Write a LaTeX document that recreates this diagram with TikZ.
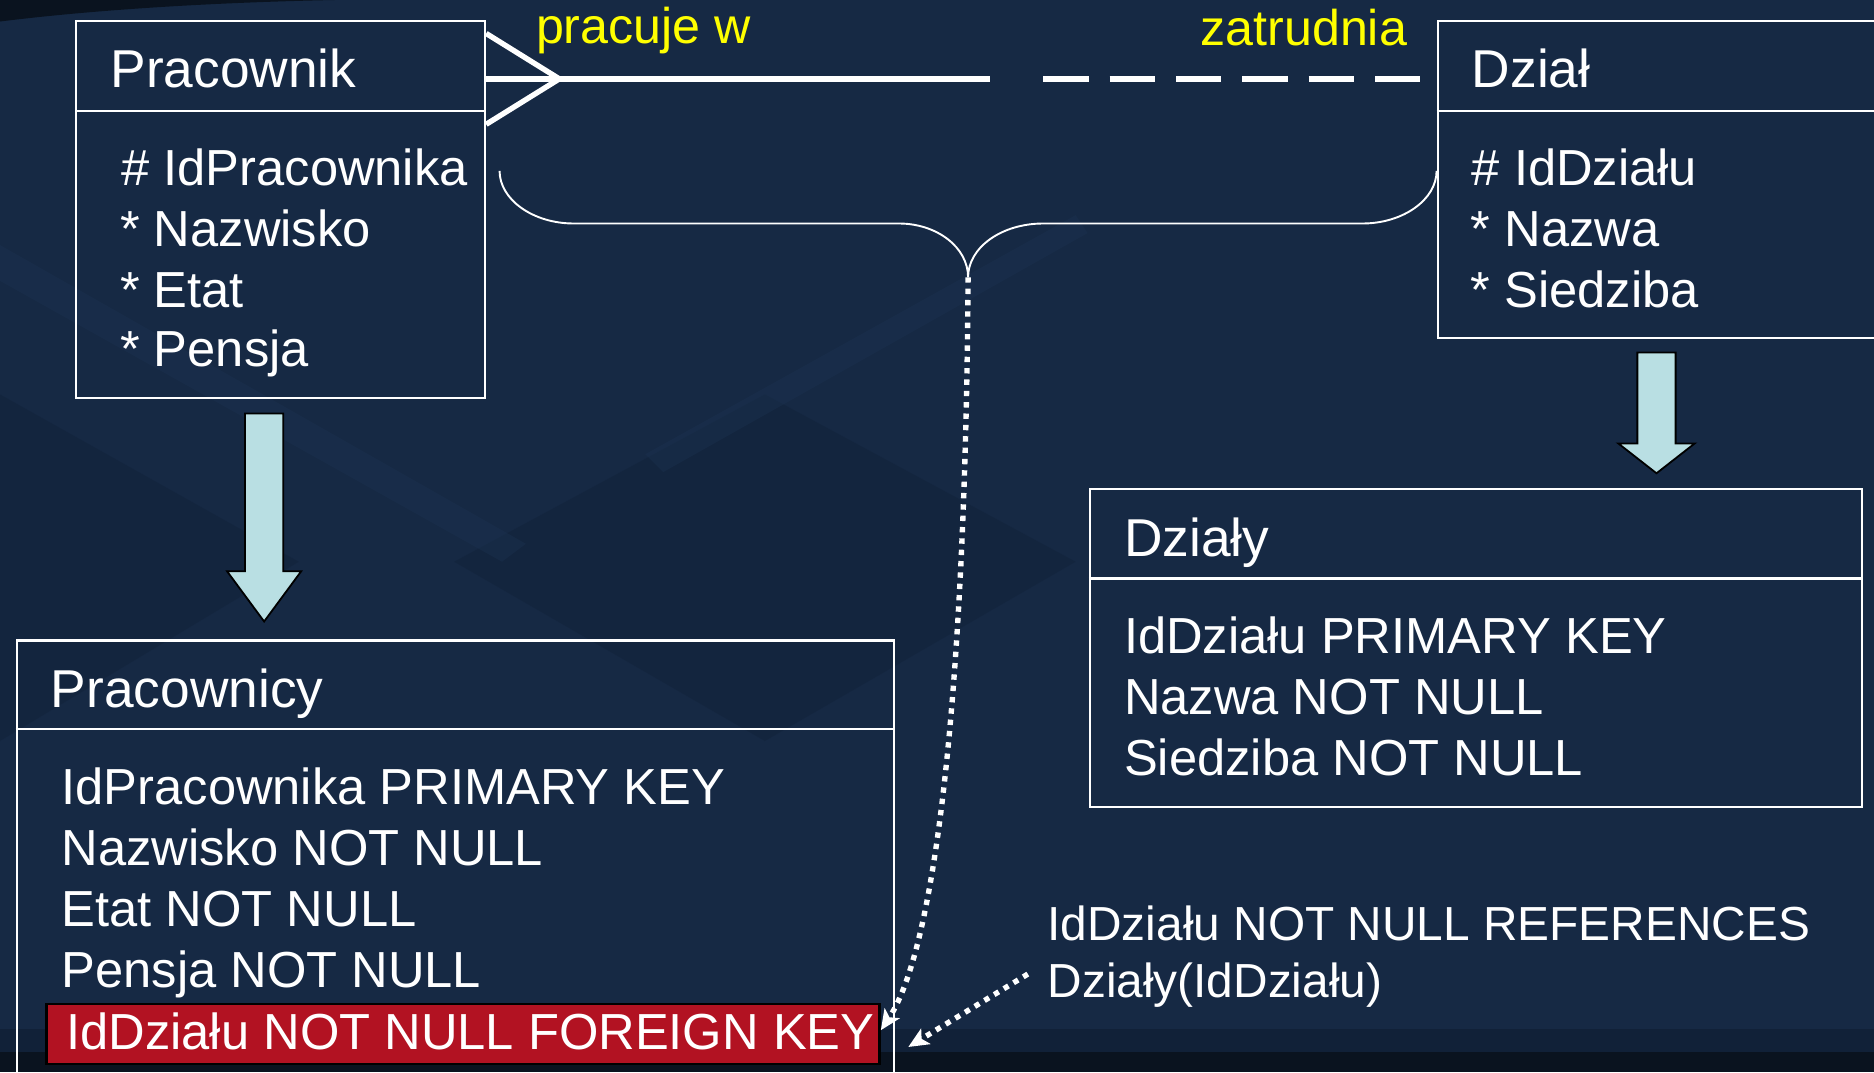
\documentclass[tikz,border=0pt]{standalone}
\usepackage{fontspec}
\setmainfont{Liberation Sans}
\usetikzlibrary{arrows.meta,calc}
\definecolor{bg}{RGB}{22,41,68}
\definecolor{bgdark}{RGB}{17,33,56}
\definecolor{bgfoot}{RGB}{10,19,31}
\definecolor{bglight}{RGB}{30,54,86}
\definecolor{arrowfill}{RGB}{185,223,227}
\definecolor{fkred}{RGB}{178,18,34}
\definecolor{ylw}{RGB}{255,255,0}
\tikzset{
  box/.style={draw=white, line width=1.8pt, anchor=north west, inner sep=0pt},
  divider/.style={draw=white, line width=2.2pt},
  ttl/.style={anchor=base west, text=white, font=\fontsize{44.6}{50}\selectfont},
  attr/.style={anchor=base west, text=white, font=\fontsize{42.4}{48}\selectfont},
  note/.style={anchor=base west, text=white, font=\fontsize{40}{46}\selectfont},
  rel/.style={anchor=base west, text=ylw, font=\fontsize{42}{48}\selectfont},
  thick rel/.style={draw=white, line width=4.5pt},
  brace/.style={draw=white, line width=1.6pt},
  dotarrow/.style={draw=white, line width=4.5pt, dash pattern=on 4.5pt off 5pt,
     -{Stealth[length=17pt,width=15pt,inset=4pt]}},
  blockarrow/.style={fill=arrowfill, draw=black, line width=1.5pt, line join=miter},
}
\begin{document}
\begin{tikzpicture}[x=1pt,y=-1pt]
\useasboundingbox (0,0) rectangle (1568,897);
\clip (0,0) rectangle (1568,897);
% background
\fill[bg] (0,0) rectangle (1568,897);
\fill[bgdark, opacity=0.45] (0,330) -- (250,470) -- (0,620) -- cycle;
\fill[bgdark, opacity=0.45] (380,470) -- (640,330) -- (900,470) -- (640,620) -- cycle;
\fill[bglight, opacity=0.3] (0,205) -- (0,235) -- (420,470) -- (440,455) -- cycle;
\fill[bglight, opacity=0.3] (540,380) -- (900,180) -- (910,195) -- (555,395) -- cycle;
\fill[bgfoot] (0,0) -- (0,18) .. controls (80,8) and (180,2) .. (280,0) -- cycle;
\fill[bgdark] (0,861) rectangle (1568,880);
\fill[bgfoot] (0,880) rectangle (1568,897);

% ---- Pracownik (entity)
\node[box, minimum width=342pt, minimum height=315pt] (prac) at (63,17) {};
\draw[divider] (prac.west |- 0,93) -- (prac.east |- 0,93);
\node[ttl] (pracT) at (89,73) {Pracownik};
\node[attr] (pracA1) at (98,155) {\# IdPracownika};
\node[attr] (pracA2) at (97,206) {* Nazwisko};
\node[attr] (pracA3) at (97,257) {* Etat};
\node[attr] (pracA4) at (97,307) {* Pensja};

% ---- Dzial (entity)
\node[box, minimum width=400pt, minimum height=265pt] (dzial) at (1202,17) {};
\draw[divider] (dzial.west |- 0,93) -- (dzial.east |- 0,93);
\node[ttl] (dzialT) at (1228,73) {Dział};
\node[attr] (dzialA1) at (1228,155) {\# IdDziału};
\node[attr] (dzialA2) at (1227,206) {* Nazwa};
\node[attr] (dzialA3) at (1227,257) {* Siedziba};

% ---- relationship
\coordinate (cfTop) at (prac.east |- 0,28);
\coordinate (cfMid) at (prac.east |- 0,66);
\coordinate (cfBot) at (prac.east |- 0,104);
\coordinate (cfTip) at (468,66);
\coordinate (solidEnd) at (828,66);
\coordinate (dashStart) at (873,66);
\coordinate (dashEnd) at (1190,66);
\draw[thick rel, line join=miter] (cfTop) -- (cfTip) -- (cfBot);
\draw[thick rel] (cfMid) -- (solidEnd);
\draw[thick rel, dash pattern=on 38pt off 17.5pt] (dashStart) -- (dashEnd);
\node[rel] (lblPrac) at (445,36) {pracuje w};
\node[rel] (lblZatr) at (1001,38) {zatrudnia};

% ---- brace
\coordinate (brL) at (418,143);
\coordinate (brR) at (dzial.west |- 0,143);
\coordinate (brTip) at (810,232);
\draw[brace] (brL) .. controls (418,167) and (446,187) .. (480,187) -- (752,187)
   .. controls (784,187) and (810,207) .. (brTip)
   .. controls (810,207) and (838,187) .. (873,187) -- (1140,187)
   .. controls (1174,187) and (1202,167) .. (brR);

% ---- Pracownicy (table)
\node[box, minimum width=734pt, minimum height=400pt] (pracy) at (13,535) {};
\draw[divider] (pracy.west |- 0,610) -- (pracy.east |- 0,610);
\node[ttl] (pracyT) at (39,592) {Pracownicy};
\node[attr] (pracyA1) at (48,673) {IdPracownika PRIMARY KEY};
\node[attr] (pracyA2) at (48,724) {Nazwisko NOT NULL};
\node[attr] (pracyA3) at (48,775) {Etat NOT NULL};
\node[attr] (pracyA4) at (48,826) {Pensja NOT NULL};
\node[draw=black, line width=2pt, fill=fkred, anchor=north west, minimum width=697pt, minimum height=50pt, inner sep=0pt] (fk) at (38,839) {};
\node[attr] (fkT) at (52,878) {IdDziału NOT NULL FOREIGN KEY};

% ---- Dzialy (table)
\node[box, minimum width=646pt, minimum height=266pt] (dzialy) at (911,408) {};
\draw[divider] (dzialy.west |- 0,484) -- (dzialy.east |- 0,484);
\node[ttl] (dzialyT) at (937,466) {Działy};
\node[attr] (dzialyA1) at (937,547) {IdDziału PRIMARY KEY};
\node[attr] (dzialyA2) at (937,598) {Nazwa NOT NULL};
\node[attr] (dzialyA3) at (937,649) {Siedziba NOT NULL};

% ---- block arrows (entity -> table)
\draw[blockarrow] (205,346) -- (237,346) -- (237,478) -- (252,478) -- (221,520)
   -- (190,478) -- (205,478) -- cycle;
\draw[blockarrow] (1370,295) -- (1402,295) -- (1402,371) -- (1418,371) -- (1386,396)
   -- (1354,371) -- (1370,371) -- cycle;

% ---- references note
\node[note] (refA) at (873,787) {IdDziału NOT NULL REFERENCES};
\node[note] (refB) at (873,835) {Działy(IdDziału)};

% ---- dotted connectors
\coordinate (fkEnd1) at (737,862);
\coordinate (fkEnd2) at (760,876);
\coordinate (noteStart) at (860,815);
\draw[dotarrow] (brTip) .. controls (808,560) and (785,790) .. (fkEnd1);
\draw[dotarrow] (noteStart) -- (fkEnd2);
\end{tikzpicture}
\end{document}
